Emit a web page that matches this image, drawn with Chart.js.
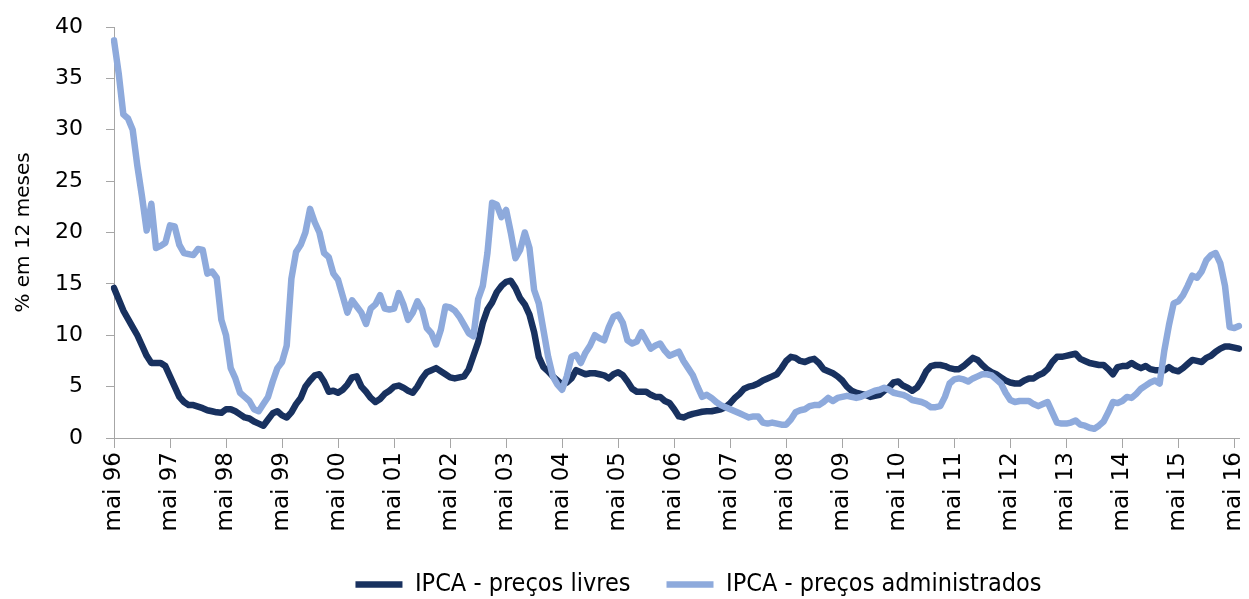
<!DOCTYPE html>
<html lang="pt-BR">
<head>
<meta charset="utf-8">
<title>IPCA - preços livres e administrados</title>
<script src="https://cdn.jsdelivr.net/npm/chart.js@4.4.1/dist/chart.umd.min.js"></script>
<style>
  html, body { margin: 0; padding: 0; background: #fff; }
  #caixa { position: relative; width: 1249px; height: 599px; }
</style>
</head>
<body>
<div id="caixa"><canvas id="graficoIpca"></canvas></div>
<script>
// meses de mai/96 a jun/16, variação em 12 meses (%)
const meses = ['jan', 'fev', 'mar', 'abr', 'mai', 'jun', 'jul', 'ago', 'set', 'out', 'nov', 'dez']
const anoInicial = 1996
const mesInicial = 4
const totalMeses = 242

const precosLivres = [
  14.6, 13.5, 12.4, 11.6, 10.8, 10.0, 9.0, 8.0, 7.3, 7.3, 7.3, 7.0,
  6.0, 5.0, 4.0, 3.5, 3.2, 3.2, 3.05, 2.9, 2.7, 2.6, 2.5, 2.45,
  2.8, 2.8, 2.6, 2.3, 2.0, 1.9, 1.6, 1.4, 1.2, 1.8, 2.4, 2.6,
  2.2, 2.0, 2.5, 3.3, 3.9, 5.0, 5.6, 6.1, 6.2, 5.5, 4.5, 4.6,
  4.4, 4.7, 5.2, 5.9, 6.0, 5.0, 4.5, 3.9, 3.5, 3.8, 4.3, 4.6,
  5.0, 5.1, 4.9, 4.6, 4.4, 5.0, 5.8, 6.4, 6.6, 6.8, 6.5, 6.2,
  5.9, 5.8, 5.9, 6.0, 6.7, 8.0, 9.3, 11.2, 12.5, 13.2, 14.2, 14.8,
  15.2, 15.3, 14.6, 13.6, 13.0, 12.0, 10.3, 7.9, 6.9, 6.5, 6.0, 5.6,
  5.2, 5.4, 5.8, 6.6, 6.4, 6.2, 6.3, 6.3, 6.2, 6.1, 5.8, 6.2,
  6.4, 6.1, 5.5, 4.8, 4.5, 4.5, 4.5, 4.2, 4.0, 4.0, 3.6, 3.4,
  2.8, 2.1, 2.0, 2.2, 2.35, 2.45, 2.55, 2.6, 2.6, 2.7, 2.8, 3.0,
  3.4, 3.9, 4.3, 4.8, 5.0, 5.1, 5.3, 5.6, 5.8, 6.0, 6.2, 6.8,
  7.5, 7.9, 7.8, 7.5, 7.4, 7.6, 7.7, 7.3, 6.7, 6.5, 6.3, 6.0,
  5.6, 5.0, 4.6, 4.4, 4.3, 4.2, 4.0, 4.1, 4.2, 4.6, 4.9, 5.4,
  5.5, 5.1, 4.9, 4.6, 4.9, 5.6, 6.5, 7.0, 7.1, 7.1, 7.0, 6.8,
  6.7, 6.7, 7.0, 7.4, 7.8, 7.6, 7.1, 6.7, 6.4, 6.2, 5.9, 5.6,
  5.4, 5.3, 5.3, 5.6, 5.8, 5.8, 6.1, 6.3, 6.7, 7.4, 7.9, 7.9,
  8.0, 8.1, 8.2, 7.7, 7.5, 7.3, 7.2, 7.1, 7.1, 6.7, 6.2, 6.9,
  7.0, 7.0, 7.3, 7.0, 6.8, 7.0, 6.7, 6.6, 6.6, 6.6, 6.9, 6.6,
  6.5, 6.8, 7.2, 7.6, 7.5, 7.4, 7.8, 8.0, 8.4, 8.7, 8.9, 8.9,
  8.8, 8.7
]

const precosAdministrados = [
  38.7, 35.5, 31.5, 31.1, 30.0, 26.5, 23.5, 20.2, 22.8, 18.5, 18.7, 19.0,
  20.7, 20.6, 18.8, 18.0, 17.9, 17.8, 18.4, 18.3, 16.0, 16.2, 15.6, 11.5,
  10.0, 6.8, 5.8, 4.4, 4.0, 3.6, 2.8, 2.6, 3.3, 4.0, 5.5, 6.8,
  7.4, 9.0, 15.5, 18.1, 18.8, 20.0, 22.3, 21.0, 20.0, 18.0, 17.6, 16.0,
  15.4, 13.8, 12.2, 13.4, 12.8, 12.2, 11.1, 12.6, 13.0, 13.9, 12.6, 12.5,
  12.6, 14.1, 13.0, 11.5, 12.2, 13.3, 12.5, 10.7, 10.2, 9.1, 10.5, 12.8,
  12.7, 12.4, 11.8, 11.0, 10.2, 9.9, 13.5, 14.8, 18.0, 22.9, 22.7, 21.5,
  22.2, 20.0, 17.5, 18.3, 20.0, 18.5, 14.4, 13.1, 10.5, 7.9, 6.0, 5.2,
  4.7, 6.0, 7.9, 8.1, 7.3, 8.3, 9.0, 10.0, 9.7, 9.5, 10.8, 11.8,
  12.0, 11.2, 9.5, 9.2, 9.4, 10.3, 9.5, 8.7, 9.0, 9.2, 8.5, 8.0,
  8.2, 8.4, 7.5, 6.8, 6.1, 5.0, 4.0, 4.2, 3.9, 3.5, 3.2, 3.0,
  2.8, 2.6, 2.4, 2.2, 2.0, 2.1, 2.1, 1.5, 1.4, 1.5, 1.4, 1.3,
  1.3, 1.8, 2.5, 2.7, 2.8, 3.1, 3.2, 3.2, 3.5, 3.9, 3.6, 3.9,
  4.0, 4.1, 4.0, 3.9, 4.0, 4.2, 4.4, 4.6, 4.7, 4.9, 4.7, 4.4,
  4.3, 4.2, 4.0, 3.7, 3.6, 3.5, 3.3, 3.0, 3.0, 3.1, 4.0, 5.3,
  5.7, 5.8, 5.7, 5.5, 5.8, 6.0, 6.2, 6.2, 6.1, 5.7, 5.3, 4.4,
  3.7, 3.5, 3.6, 3.6, 3.6, 3.3, 3.1, 3.3, 3.5, 2.5, 1.5, 1.4,
  1.4, 1.5, 1.7, 1.3, 1.2, 1.0, 0.9, 1.2, 1.6, 2.5, 3.5, 3.4,
  3.6, 4.0, 3.9, 4.3, 4.8, 5.1, 5.4, 5.6, 5.3, 8.5, 11.0, 13.1,
  13.3, 13.9, 14.8, 15.8, 15.6, 16.2, 17.3, 17.8, 18.0, 17.0, 14.8, 10.8,
  10.7, 10.9
]

// rótulos "mai 96", "jun 96", ...
let rotulos = []
for (let i = 0; i < totalMeses; i++) {
  let m = (mesInicial + i) % 12
  let ano = anoInicial + Math.floor((mesInicial + i) / 12)
  rotulos.push(meses[m] + ' ' + String(ano).slice(2))
}

const corLivres = '#18315f'
const corAdministrados = '#8eaadc'
const corEixo = '#a6a6a6'
const espacoLegenda = 36

// legenda: desloca para a direita e sobe (o padding grande é só para afastar os itens)
const ajusteLegenda = {
  id: 'ajusteLegenda',
  afterLayout(chart) {
    const leg = chart.legend
    leg.left += 79
    leg.right += 79
    leg.top -= espacoLegenda - 5
  }
}

const ctx = document.getElementById('graficoIpca')

new Chart(ctx, {
  type: 'line',
  data: {
    labels: rotulos,
    datasets: [{
      label: 'IPCA - preços livres',
      data: precosLivres,
      order: 2,
      borderColor: corLivres,
      backgroundColor: corLivres,
      borderWidth: 6.5,
      borderJoinStyle: 'round',
      borderCapStyle: 'round',
      pointRadius: 0,
      tension: 0
    }, {
      label: 'IPCA - preços administrados',
      data: precosAdministrados,
      order: 1,
      borderColor: corAdministrados,
      backgroundColor: corAdministrados,
      borderWidth: 6.5,
      borderJoinStyle: 'round',
      borderCapStyle: 'round',
      pointRadius: 0,
      tension: 0
    }]
  },
  options: {
    responsive: true,
    maintainAspectRatio: false,
    animation: false,
    layout: {
      padding: { top: 27, right: 10, left: 0, bottom: 0 }
    },
    plugins: {
      tooltip: { enabled: false },
      legend: {
        position: 'bottom',
        maxHeight: 32,
        labels: {
          usePointStyle: true,
          pointStyle: 'line',
          pointStyleWidth: 47,
          padding: espacoLegenda,
          color: '#000',
          font: { family: "'Liberation Sans Narrow', 'DejaVu Sans Condensed', sans-serif", size: 25 },
          sort: (a, b) => a.datasetIndex - b.datasetIndex
        }
      }
    },
    scales: {
      x: {
        afterFit: (escala) => {
          escala.height = 129
          escala.paddingLeft = 0
          escala.paddingRight = 0
        },
        grid: {
          drawOnChartArea: false,
          drawTicks: true,
          tickLength: 10,
          color: corEixo
        },
        border: { color: corEixo, width: 1 },
        ticks: {
          autoSkip: false,
          minRotation: 90,
          maxRotation: 90,
          padding: 4,
          color: '#000',
          font: { family: "'DejaVu Sans', sans-serif", size: 23 },
          callback: function (valor, indice) {
            return indice % 12 === 0 ? this.getLabelForValue(valor) : null
          }
        }
      },
      y: {
        min: 0,
        max: 40,
        afterFit: (escala) => {
          escala.width = 114
          escala.paddingTop = 0
          escala.paddingBottom = 0
        },
        grid: {
          drawOnChartArea: false,
          drawTicks: true,
          tickLength: 8,
          color: corEixo
        },
        border: { color: corEixo, width: 1 },
        ticks: {
          stepSize: 5,
          padding: 23,
          color: '#000',
          font: { family: "'DejaVu Sans', sans-serif", size: 22 }
        },
        title: {
          display: true,
          text: '% em 12 meses',
          color: '#000',
          padding: { top: 12, bottom: 0 },
          font: { family: "'DejaVu Sans', sans-serif", size: 20 }
        }
      }
    }
  },
  plugins: [ajusteLegenda]
});
</script>
</body>
</html>
